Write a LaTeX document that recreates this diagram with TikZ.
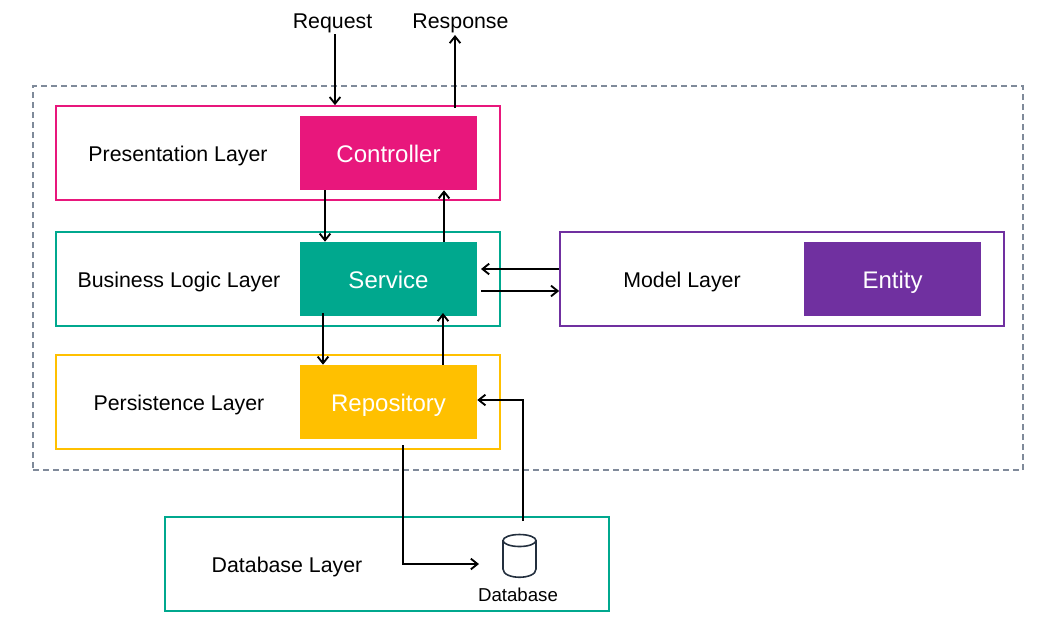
\documentclass[tikz,border=0pt]{standalone}
\usepackage{fontspec}
\setmainfont{Liberation Sans}
\usetikzlibrary{arrows.meta}

\definecolor{pink}{HTML}{E8177C}
\definecolor{teal}{HTML}{00A88E}
\definecolor{amber}{HTML}{FFC000}
\definecolor{violet}{HTML}{7030A0}
\definecolor{slate}{HTML}{7F8A9A}
\definecolor{ink}{HTML}{232F3E}

\tikzset{
  layer/.style={draw=#1, line width=1.3pt, minimum width=333pt, minimum height=70.5pt, inner sep=0pt},
  part/.style={fill=#1, text=white, font=\fontsize{18}{20}\selectfont, text height=14.25pt, text depth=0pt, minimum width=132.75pt, minimum height=55.5pt, inner sep=0pt},
  caption/.style={font=\fontsize{16}{19}\selectfont, inner sep=0pt},
  flow/.style={-{Straight Barb[length=5pt, width=8pt]}, line width=1.4pt}
}

\begin{document}
\begin{tikzpicture}[x=0.75pt, y=-0.75pt]
  \useasboundingbox (0,0) rectangle (1044,633);
  \coordinate (ctrl_dn) at (325,0);
  \coordinate (svc_up) at (444,0);
  \coordinate (svc_dn) at (323,313);
  \coordinate (repo_up) at (443,313);
  \coordinate (repo_out) at (403,445);
  \coordinate (db_out) at (523,521);
  \coordinate (db_in) at (479,564);
  \coordinate (model_in) at (481,269);
  \coordinate (model_out) at (481,291);
  \coordinate (resp_out) at (455,108);

  \node[draw=slate, dash pattern=on 4.5pt off 3pt, line width=1.3pt, minimum width=742.5pt, minimum height=288pt, inner sep=0pt] (app) at (528,278) {};

  \node[layer=pink] (presentation) at (278,153) {};
  \node[layer=teal] (business) at (278,279) {};
  \node[layer=amber] (persistence) at (278,402) {};
  \node[layer=violet] (model) at (782,279) {};
  \node[layer=teal] (dblayer) at (387,564) {};

  \node[part=pink] (controller) at (388.5,153) {Controller};
  \node[part=teal] (service) at (388.5,279) {Service};
  \node[part=amber] (repository) at (388.5,402) {Repository};
  \node[part=violet] (entity) at (892.5,279) {Entity};

  \node[caption] (lpresentation) at (178,156) {Presentation Layer};
  \node[caption] (lbusiness) at (179,282) {Business Logic Layer};
  \node[caption] (lpersistence) at (179,405) {Persistence Layer};
  \node[caption] (lmodel) at (682,282) {Model Layer};
  \node[caption] (ldblayer) at (287,567) {Database Layer};
  \node[caption] (request) at (332.5,23) {Request};
  \node[caption] (response) at (460.5,23) {Response};

  % database drum
  \draw[ink, line width=1.2pt] (519.5,540.5) ellipse [x radius=16.5, y radius=6];
  \draw[ink, line width=1.2pt] (503,540.5) -- (503,569) .. controls (503,580) and (536,580) .. (536,569) -- (536,540.5);
  \node[font=\fontsize{14}{17}\selectfont, inner sep=0pt] (ldatabase) at (518,595) {Database};

  \draw[flow] (335,34) -- (335,0 |- presentation.north);
  \draw[flow] (resp_out) -- (455,35);
  \draw[flow] (ctrl_dn |- controller.south) -- (ctrl_dn |- service.north);
  \draw[flow] (svc_up |- service.north) -- (svc_up |- controller.south);
  \draw[flow] (svc_dn) -- (svc_dn |- repository.north);
  \draw[flow] (repo_up |- repository.north) -- (repo_up);
  \draw[flow] (model.west |- model_in) -- (model_in);
  \draw[flow] (model_out) -- (model.west |- model_out);
  \draw[flow] (repo_out) |- (db_in);
  \draw[flow] (db_out) |- (repository.east |- 0,400);
\end{tikzpicture}
\end{document}
